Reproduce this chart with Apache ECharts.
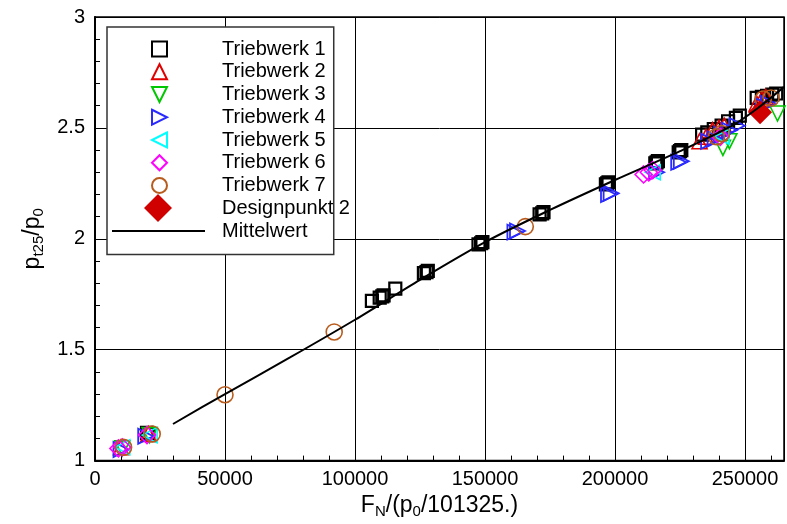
<!DOCTYPE html>
<html>
<head>
<meta charset="utf-8">
<script src="https://cdn.jsdelivr.net/npm/echarts@6/dist/echarts.min.js"></script>
<style>
  html, body { margin: 0; padding: 0; background: #fff; }
  #chart { width: 787px; height: 524px; }
</style>
</head>
<body>
<div id="chart"></div>
<script>
var myChart = echarts.init(document.getElementById('chart'));

// values: [F_N/(p0/101325.), pt25/p0]
var triebwerk1 = [
    [20000, 1.125], [20500, 1.12],
    [106500, 1.72], [109500, 1.735], [110500, 1.74], [111000, 1.745], [115500, 1.775],
    [126500, 1.845], [127500, 1.85], [128000, 1.855],
    [147500, 1.975], [148500, 1.98], [149000, 1.985],
    [171000, 2.11], [172000, 2.115], [172500, 2.12],
    [196500, 2.245], [197000, 2.25], [197500, 2.255],
    [215500, 2.34], [216000, 2.345], [216500, 2.35],
    [224500, 2.39], [225000, 2.395], [225500, 2.40],
    [233500, 2.47], [235500, 2.48], [238000, 2.495], [241000, 2.51], [243500, 2.53], [246500, 2.545], [248000, 2.555],
    [254500, 2.635], [256500, 2.64], [258500, 2.645], [260500, 2.65], [262000, 2.655]
];
var triebwerk2 = [
    [10000, 1.06], [20500, 1.12],
    [232500, 2.44], [235000, 2.46], [237500, 2.49], [240000, 2.5], [242000, 2.51],
    [254500, 2.61], [256500, 2.63], [258000, 2.64]
];
var triebwerk3 = [
    [10500, 1.055], [21000, 1.115],
    [241500, 2.41], [244000, 2.44], [262500, 2.565]
];
var triebwerk4 = [
    [10000, 1.05], [19500, 1.11],
    [161500, 2.03], [162500, 2.035],
    [197500, 2.2], [198500, 2.205],
    [216000, 2.3], [224500, 2.345], [225500, 2.35],
    [236000, 2.44], [238500, 2.45], [241000, 2.47], [244000, 2.49], [247000, 2.51],
    [257000, 2.6], [259000, 2.61]
];
var triebwerk5 = [
    [10500, 1.06], [21000, 1.115], [214500, 2.30], [241000, 2.46]
];
var triebwerk6 = [
    [9000, 1.055], [10500, 1.06], [20000, 1.115],
    [211000, 2.29], [213000, 2.30], [214500, 2.31], [240500, 2.46]
];
var triebwerk7 = [
    [11000, 1.06], [22000, 1.12], [50000, 1.297], [92000, 1.58], [165500, 2.055],
    [239000, 2.46], [241000, 2.475], [257000, 2.63], [260000, 2.635]
];
var designpunkt2 = [[255800, 2.57]];
var mittelwert = [
    [30000, 1.165], [50000, 1.30], [75000, 1.465], [100000, 1.635], [125000, 1.815],
    [150000, 1.985], [175000, 2.13], [200000, 2.265], [225000, 2.395], [245000, 2.51],
    [255000, 2.59], [265000, 2.685]
];

var font = "'Liberation Sans', Arial, sans-serif";
var legendText = { fontFamily: font, fontSize: 20, color: '#000', lineHeight: 22 };

// legend does not rotate symbols, so the pointed triangles get their own paths
var triDown = 'path://M0,0L10,0L5,10Z';
var triRight = 'path://M0,0L10,5L0,10Z';
var triLeft = 'path://M10,0L0,5L10,10Z';

function hollow(name, data, symbol, rotate, size, color, bw) {
    return {
        name: name,
        type: 'scatter',
        data: data,
        symbol: symbol,
        symbolRotate: rotate,
        symbolSize: size,
        itemStyle: { color: 'rgba(255,255,255,0)', borderColor: color, borderWidth: bw, opacity: 1 }
    };
}

option = {
    animation: false,
    textStyle: { fontFamily: font },
    grid: {
        left: 95, top: 17, right: 3, bottom: 62,
        show: true, borderColor: '#000', borderWidth: 1.5
    },
    legend: [
        {
            // marker entries; the box is tall enough for the two entries below
            orient: 'vertical',
            left: 107,
            top: 27,
            padding: [11, 8, 58, 44],
            backgroundColor: '#fff',
            borderColor: '#333',
            borderWidth: 1.5,
            itemWidth: 15,
            itemHeight: 15,
            itemGap: 0.75,
            textStyle: Object.assign({ padding: [0, 0, 0, 50] }, legendText),
            data: [
                { name: 'Triebwerk 1' },
                { name: 'Triebwerk 2' },
                { name: 'Triebwerk 3', icon: triDown },
                { name: 'Triebwerk 4', icon: triRight },
                { name: 'Triebwerk 5', icon: triLeft },
                { name: 'Triebwerk 6' },
                { name: 'Triebwerk 7' }
            ]
        },
        {
            orient: 'vertical',
            left: 107,
            top: 194,
            padding: [0, 0, 0, 37],
            itemWidth: 28,
            itemHeight: 28,
            z: 5,
            textStyle: Object.assign({ padding: [0, 0, 0, 45] }, legendText),
            data: [{ name: 'Designpunkt 2', itemStyle: { color: '#d00000' } }]
        },
        {
            orient: 'vertical',
            left: 107,
            top: 220,
            padding: [0, 0, 0, 5],
            itemWidth: 93,
            itemHeight: 2,
            z: 5,
            textStyle: Object.assign({ padding: [0, 0, 0, 12] }, legendText),
            data: [{ name: 'Mittelwert', icon: 'rect', itemStyle: { color: '#000' } }]
        }
    ],
    xAxis: {
        type: 'value',
        min: 0, max: 265000, interval: 50000,
        name: '{a|F}{b|N}{a|/(p}{b|0}{a|/101325.)}',
        nameLocation: 'middle',
        nameGap: 26,
        nameTextStyle: {
            rich: {
                a: { fontFamily: font, fontSize: 23, color: '#000' },
                b: { fontFamily: font, fontSize: 15, color: '#000', padding: [11, 0, 0, 0] }
            }
        },
        axisLine: { lineStyle: { color: '#000', width: 2 } },
        axisTick: { inside: true, length: 8, lineStyle: { color: '#000' } },
        minorTick: { show: true, splitNumber: 5, length: 5, lineStyle: { color: '#000' } },
        splitLine: { show: true, lineStyle: { color: '#000', width: 1 } },
        axisLabel: {
            fontFamily: font, fontSize: 20, color: '#000', margin: 9,
            showMaxLabel: false,
            formatter: function (v) { return v > 250000 ? '' : String(v); }
        }
    },
    yAxis: {
        type: 'value',
        min: 1, max: 3, interval: 0.5,
        name: '{a|p}{b|t25}{a|/p}{b|0}',
        nameLocation: 'middle',
        nameRotate: 90,
        nameGap: 49,
        nameTextStyle: {
            rich: {
                a: { fontFamily: font, fontSize: 23, color: '#000' },
                b: { fontFamily: font, fontSize: 15, color: '#000', padding: [11, 0, 0, 0] }
            }
        },
        axisLine: { lineStyle: { color: '#000', width: 2 } },
        axisTick: { inside: true, length: 8, lineStyle: { color: '#000' } },
        minorTick: { show: true, splitNumber: 5, length: 5, lineStyle: { color: '#000' } },
        splitLine: { show: true, lineStyle: { color: '#000', width: 1 } },
        axisLabel: { fontFamily: font, fontSize: 20, color: '#000', margin: 10 }
    },
    series: [
        hollow('Triebwerk 1', triebwerk1, 'rect', 0, 12, '#000000', 2.2),
        hollow('Triebwerk 2', triebwerk2, 'triangle', 0, 15, '#e00000', 1.6),
        hollow('Triebwerk 3', triebwerk3, 'triangle', 180, 15, '#00c800', 1.6),
        hollow('Triebwerk 4', triebwerk4, 'triangle', -90, 15, '#2a2aff', 1.8),
        hollow('Triebwerk 5', triebwerk5, 'triangle', 90, 15, '#00ffff', 1.6),
        hollow('Triebwerk 6', triebwerk6, 'diamond', 0, 17, '#ff00ff', 1.6),
        hollow('Triebwerk 7', triebwerk7, 'circle', 0, 16, '#b85c1e', 1.6),
        {
            name: 'Designpunkt 2',
            type: 'scatter',
            data: designpunkt2,
            symbol: 'diamond',
            symbolSize: 24,
            itemStyle: { color: '#d00000', opacity: 1 }
        },
        {
            name: 'Mittelwert',
            type: 'line',
            data: mittelwert,
            smooth: 0.3,
            symbol: 'none',
            lineStyle: { color: '#000', width: 2 },
            itemStyle: { color: '#000' },
            z: 3
        }
    ]
};

myChart.setOption(option);
</script>
</body>
</html>
